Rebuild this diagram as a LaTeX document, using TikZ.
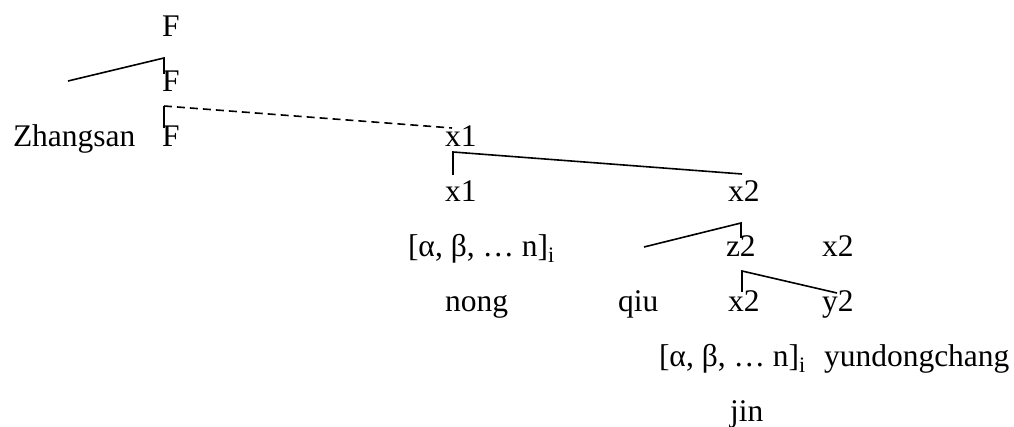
\documentclass[tikz,border=0pt]{standalone}
\usepackage{fontspec}
\setmainfont{Liberation Serif}
\begin{document}
\begin{tikzpicture}[x=1pt,y=-1pt,
  lab/.style={anchor=base west,inner sep=0pt,outer sep=0pt,font=\fontsize{31.5}{38}\selectfont},
  br/.style={line width=1.6pt,line cap=butt,line join=miter},
  dsh/.style={line width=1.6pt,dash pattern=on 8pt off 5pt}]
\useasboundingbox (0,0) rectangle (1014,427);
% rows
\def\rA{37}\def\rB{91.9}\def\rC{146.8}\def\rD{201.7}\def\rE{256.6}\def\rF{311.5}\def\rG{366.4}\def\rH{421.3}
\node[lab] (F1) at (162,\rA) {F};
\node[lab] (F2) at (162,\rB) {F};
\node[lab] (zs) at (13,\rC) {Zhangsan};
\node[lab] (F3) at (162,\rC) {F};
\node[lab] (x1a) at (445,\rC) {x1};
\node[lab] (x1b) at (445,\rD) {x1};
\node[lab] (x2a) at (728,\rD) {x2};
\node[lab] (ab1) at (408,\rE) {[α, β, … n]\textsubscript{i}};
\node[lab] (z2) at (726,\rE) {z2};
\node[lab] (x2b) at (822,\rE) {x2};
\node[lab] (nong) at (445,\rF) {nong};
\node[lab] (qiu) at (618,\rF) {qiu};
\node[lab] (x2c) at (728,\rF) {x2};
\node[lab] (y2) at (822,\rF) {y2};
\node[lab] (ab2) at (659,\rG) {[α, β, … n]\textsubscript{i}};
\node[lab] (yd) at (824,\rG) {yundongchang};
\node[lab] (jin) at (730,\rH) {jin};
% connector points
\coordinate (a0) at (164,58);
\coordinate (a1) at (68,81);
\coordinate (a2) at (164,74);
\coordinate (b0) at (164,106);
\coordinate (b1) at (164,128);
\coordinate (b2) at (452,128);
\coordinate (c0) at (453,152);
\coordinate (c1) at (453,175);
\coordinate (c2) at (742,174);
\coordinate (d0) at (741,223);
\coordinate (d1) at (644,247);
\coordinate (d2) at (741,238);
\coordinate (e0) at (742,271);
\coordinate (e1) at (742,292);
\coordinate (e2) at (837,293);
\draw[br] (a1) -- (a0) -- (a2);
\draw[br] (b1) -- (b0);
\draw[dsh] (b0) -- (b2);
\draw[br] (c1) -- (c0) -- (c2);
\draw[br] (d1) -- (d0) -- (d2);
\draw[br] (e1) -- (e0) -- (e2);
\end{tikzpicture}
\end{document}
